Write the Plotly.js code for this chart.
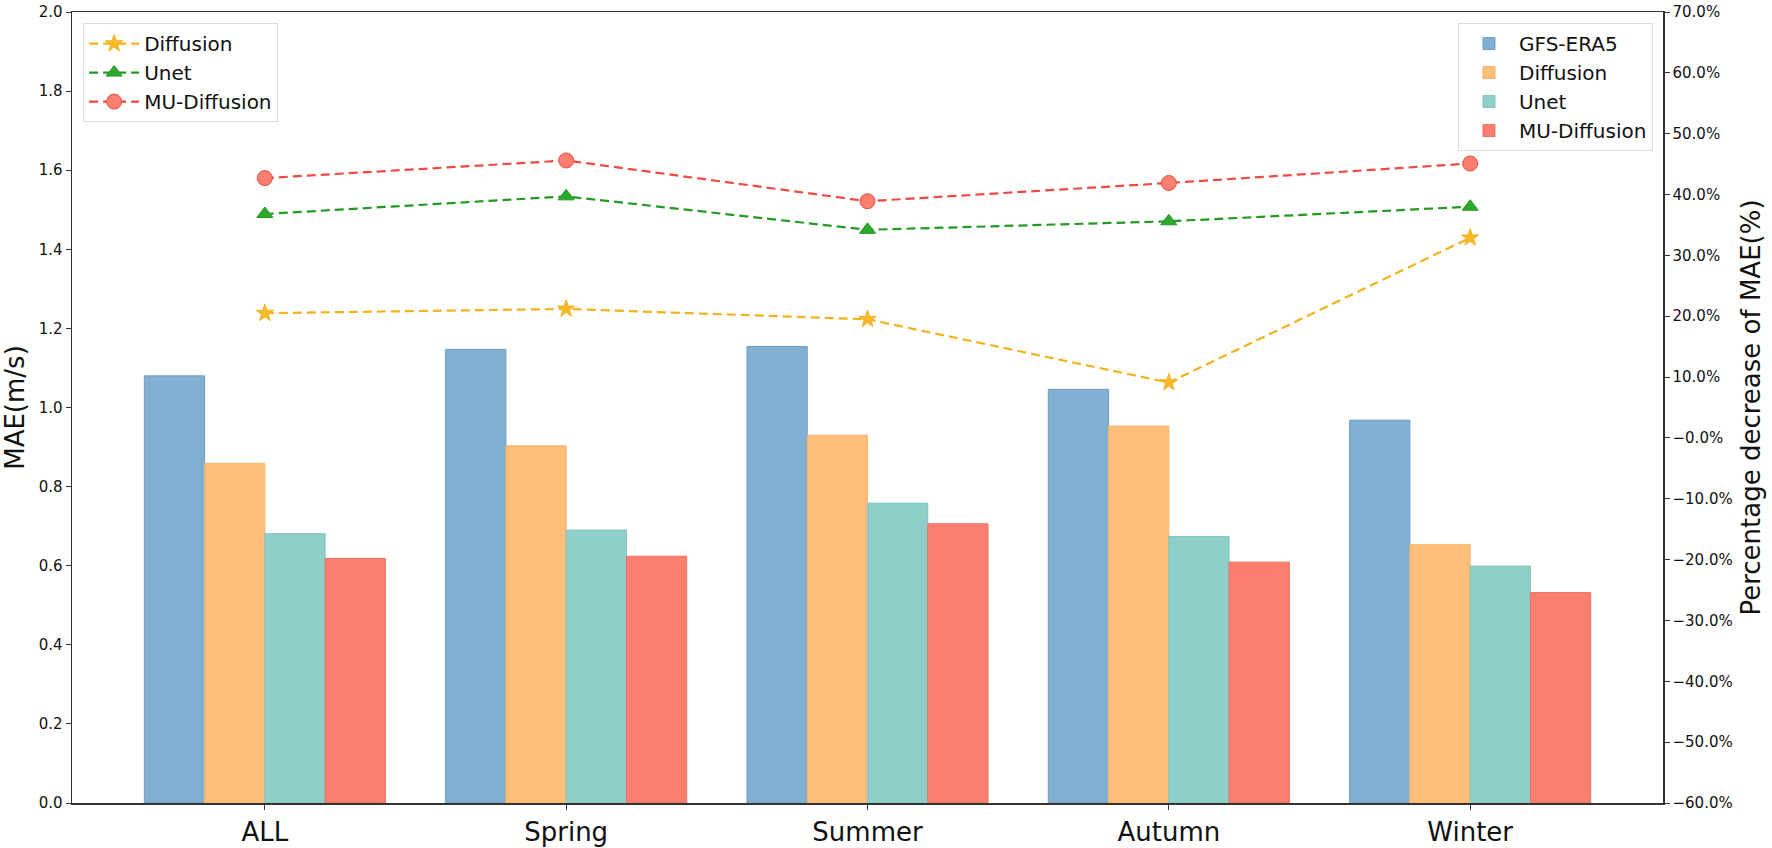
<!DOCTYPE html>
<html>
<head>
<meta charset="utf-8">
<script src="https://cdn.plot.ly/plotly-3.0.1.min.js"></script>
<style>
  html, body { margin: 0; padding: 0; background: #fff; }
  #chart { width: 1772px; height: 848px; }
</style>
</head>
<body>
<div id="chart"></div>
<script>
var categories = ['ALL', 'Spring', 'Summer', 'Autumn', 'Winter'];

// MAE (m/s), left axis
var gfsEra5 = [1.080, 1.147, 1.154, 1.046, 0.968];
var diffusionMae = [0.859, 0.903, 0.930, 0.953, 0.653];
var unetMae = [0.681, 0.690, 0.758, 0.674, 0.599];
var muDiffusionMae = [0.618, 0.624, 0.706, 0.609, 0.532];

// percentage decrease of MAE (%), right axis
var diffusionPct = [20.5, 21.2, 19.5, 9.1, 32.9];
var unetPct = [36.8, 39.7, 34.2, 35.6, 38.0];
var muDiffusionPct = [42.7, 45.6, 38.9, 41.9, 45.1];

var pctTicks = [-60, -50, -40, -30, -20, -10, 0, 10, 20, 30, 40, 50, 60, 70];
var pctLabels = pctTicks.map(function (v) {
  if (v === 0) return '\u22120.0%';
  return (v < 0 ? '\u2212' : '') + Math.abs(v).toFixed(1) + '%';
});

var font = 'DejaVu Sans, Liberation Sans, sans-serif';

function barTrace(name, vals, color, edge) {
  return {
    type: 'bar', name: name, x: categories, y: vals,
    marker: { color: color, line: { color: edge, width: 1 } },
    legend: 'legend2', hoverinfo: 'none'
  };
}

function lineTrace(name, vals, color, fill, symbol, size) {
  return {
    type: 'scatter', mode: 'lines+markers', name: name,
    x: categories, y: vals, yaxis: 'y2',
    line: { color: color, width: 2.2, dash: '9px,5px' },
    marker: { symbol: symbol, size: size, color: fill, line: { color: color, width: 1 } },
    legend: 'legend', hoverinfo: 'none'
  };
}

var data = [
  barTrace('GFS-ERA5', gfsEra5, '#82B0D2', '#6f9cc0'),
  barTrace('Diffusion', diffusionMae, '#FFBE7A', '#f5b56e'),
  barTrace('Unet', unetMae, '#8ECFC9', '#82c4be'),
  barTrace('MU-Diffusion', muDiffusionMae, '#FA7F6F', '#ee6f60'),
  lineTrace('Diffusion', diffusionPct, '#F2B21C', '#F7B928', 'star', 13),
  lineTrace('Unet', unetPct, '#229A22', '#2CA82C', 'triangle-up', 14),
  lineTrace('MU-Diffusion', muDiffusionPct, '#EE4A42', '#FA7F6F', 'circle', 15)
];

var axisLine = { showline: true, linecolor: '#333', linewidth: 1.5 };

var layout = {
  width: 1772, height: 848,
  margin: { l: 72, r: 109, t: 12, b: 45 },
  paper_bgcolor: '#fff', plot_bgcolor: '#fff',
  font: { family: font, color: '#111' },
  barmode: 'group', bargap: 0.2, bargroupgap: 0,
  xaxis: Object.assign({
    type: 'category', range: [-0.64, 4.64], mirror: true,
    ticks: 'outside', ticklen: 5, tickcolor: '#333',
    tickfont: { size: 26, family: font }, showgrid: false
  }, axisLine),
  yaxis: Object.assign({
    range: [0, 2], tickvals: [0, 0.2, 0.4, 0.6, 0.8, 1.0, 1.2, 1.4, 1.6, 1.8, 2.0],
    tickformat: '.1f', ticks: 'outside', ticklen: 5, tickcolor: '#333',
    tickfont: { size: 15, family: font }, showgrid: false, zeroline: false,
    title: { text: 'MAE(m/s)', font: { size: 26, family: font }, standoff: 14 }
  }, axisLine),
  yaxis2: Object.assign({
    overlaying: 'y', side: 'right', range: [-60, 70],
    tickvals: pctTicks, ticktext: pctLabels,
    ticks: 'outside', ticklen: 5, tickcolor: '#333',
    tickfont: { size: 15, family: font }, showgrid: false, zeroline: false,
    title: { text: 'Percentage decrease of MAE(%)', font: { size: 26, family: font }, standoff: 10 }
  }, axisLine),
  legend: {
    x: 0.007, y: 0.986, xanchor: 'left', yanchor: 'top',
    bgcolor: 'rgba(255,255,255,0.85)', bordercolor: '#ddd', borderwidth: 1,
    font: { size: 20, family: font }, itemwidth: 50, tracegroupgap: 0
  },
  legend2: {
    x: 0.9937, y: 0.986, xanchor: 'right', yanchor: 'top',
    bgcolor: 'rgba(255,255,255,0.85)', bordercolor: '#ddd', borderwidth: 1,
    font: { size: 20, family: font }, itemwidth: 50, tracegroupgap: 0
  },
  showlegend: true
};

Plotly.newPlot('chart', data, layout, { displayModeBar: false, staticPlot: true });
</script>
</body>
</html>
